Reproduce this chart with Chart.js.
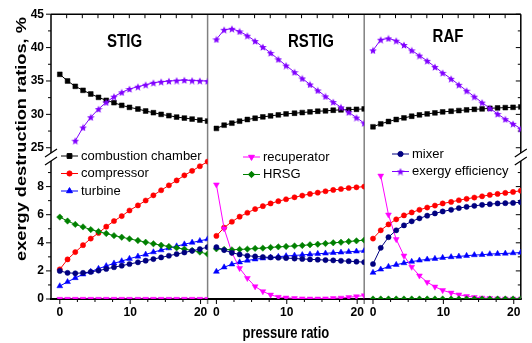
<!DOCTYPE html>
<html>
<head>
<meta charset="utf-8">
<script src="https://cdn.jsdelivr.net/npm/chart.js@4.4.1/dist/chart.umd.min.js"></script>
<style>
  body { margin: 0; background: #fff; }
  canvas { display: block; }
</style>
</head>
<body>
<canvas id="exergyChart" width="532" height="343"></canvas>
<script>
// pressure ratio, shared by the three cycles
var pressureRatio = [0, 1.1, 2.2, 3.3, 4.4, 5.5, 6.6, 7.7, 8.8, 9.9, 11.1, 12.2, 13.3, 14.4, 15.5, 16.6, 17.7, 18.8, 19.9, 21.0];

// STIG
var stigCombustion = [36.0, 35.0, 34.2, 33.6, 33.05, 32.55, 32.1, 31.75, 31.35, 31.05, 30.8, 30.5, 30.25, 30.0, 29.8, 29.6, 29.45, 29.3, 29.15, 29.0];
var stigCompressor = [2.11, 2.82, 3.34, 3.83, 4.30, 4.70, 5.15, 5.55, 5.90, 6.30, 6.66, 7.01, 7.38, 7.74, 8.09, 8.44, 8.80, 9.12, 9.45, 9.78];
var stigTurbine = [0.92, 1.22, 1.50, 1.76, 1.95, 2.16, 2.35, 2.54, 2.70, 2.87, 3.03, 3.17, 3.34, 3.48, 3.62, 3.76, 3.90, 4.02, 4.14, 4.26];
var stigRecuperator = [0, 0, 0, 0, 0, 0, 0, 0, 0, 0, 0, 0, 0, 0, 0, 0, 0, 0, 0, 0];
var stigHrsg = [5.83, 5.55, 5.31, 5.13, 4.94, 4.80, 4.66, 4.51, 4.40, 4.28, 4.16, 4.04, 3.93, 3.83, 3.74, 3.64, 3.55, 3.46, 3.34, 3.20];
var stigMixer = [2.00, 1.86, 1.83, 1.86, 1.93, 2.02, 2.14, 2.26, 2.37, 2.49, 2.61, 2.73, 2.84, 2.96, 3.08, 3.20, 3.31, 3.43, 3.55, 3.69];
var stigEfficiency = [null, null, 26.05, 28.04, 29.57, 30.8, 31.8, 32.65, 33.3, 33.8, 34.14, 34.43, 34.73, 34.88, 34.98, 35.07, 35.13, 35.07, 35.03, 34.98];

// RSTIG
var rstigCombustion = [27.89, 28.38, 28.68, 28.98, 29.23, 29.42, 29.62, 29.77, 29.92, 30.07, 30.17, 30.27, 30.37, 30.47, 30.52, 30.62, 30.67, 30.71, 30.76, 30.81];
var rstigCompressor = [4.49, 5.08, 5.50, 5.86, 6.14, 6.40, 6.61, 6.80, 6.96, 7.10, 7.24, 7.36, 7.48, 7.57, 7.67, 7.76, 7.83, 7.90, 7.95, 8.00];
var rstigTurbine = [1.95, 2.26, 2.47, 2.62, 2.74, 2.83, 2.90, 2.96, 3.01, 3.06, 3.10, 3.14, 3.18, 3.22, 3.25, 3.29, 3.32, 3.36, 3.39, 3.43];
var rstigRecuperator = [8.14, 5.01, 3.3, 2.19, 1.48, 0.89, 0.54, 0.30, 0.14, 0.09, 0.05, 0.03, 0.02, 0.02, 0.03, 0.05, 0.08, 0.12, 0.18, 0.25];
var rstigHrsg = [3.57, 3.53, 3.50, 3.53, 3.55, 3.60, 3.62, 3.67, 3.71, 3.74, 3.78, 3.81, 3.86, 3.90, 3.95, 4.00, 4.04, 4.09, 4.14, 4.19];
var rstigMixer = [3.69, 3.48, 3.29, 3.17, 3.08, 3.03, 2.99, 2.96, 2.94, 2.91, 2.88, 2.85, 2.82, 2.80, 2.77, 2.75, 2.72, 2.69, 2.66, 2.62];
var rstigEfficiency = [41.23, 42.67, 42.82, 42.42, 41.78, 40.98, 40.09, 39.20, 38.25, 37.31, 36.32, 35.38, 34.48, 33.59, 32.70, 31.85, 31.06, 30.32, 29.52, 28.68];

// RAF
var rafCombustion = [28.14, 28.58, 28.93, 29.23, 29.47, 29.72, 29.92, 30.07, 30.22, 30.37, 30.47, 30.57, 30.67, 30.76, 30.81, 30.91, 30.96, 31.01, 31.06, 31.11];
var rafCompressor = [4.30, 4.89, 5.31, 5.67, 5.95, 6.16, 6.35, 6.51, 6.65, 6.80, 6.91, 7.03, 7.13, 7.22, 7.31, 7.41, 7.48, 7.55, 7.62, 7.71];
var rafTurbine = [1.88, 2.11, 2.30, 2.44, 2.56, 2.66, 2.75, 2.82, 2.87, 2.94, 2.99, 3.03, 3.08, 3.13, 3.15, 3.20, 3.22, 3.24, 3.27, 3.31];
var rafRecuperator = [null, 8.77, 6.0, 4.25, 3.08, 2.28, 1.66, 1.2, 0.87, 0.62, 0.44, 0.31, 0.2, 0.13, 0.08, 0.05, 0.03, 0.02, 0.01, 0.01];
var rafHrsg = [0, 0, 0, 0, 0, 0, 0, 0, 0, 0, 0, 0, 0, 0, 0, 0, 0, 0, 0, 0];
var rafMixer = [2.49, 3.64, 4.40, 4.89, 5.24, 5.53, 5.74, 5.93, 6.09, 6.23, 6.35, 6.47, 6.56, 6.63, 6.70, 6.75, 6.80, 6.82, 6.84, 6.89];
var rafEfficiency = [39.59, 41.18, 41.38, 41.03, 40.39, 39.59, 38.80, 38.01, 37.11, 36.22, 35.33, 34.43, 33.54, 32.65, 31.76, 30.91, 30.07, 29.28, 28.58, 27.84];

var panelTitles = ["STIG", "RSTIG", "RAF"];
var xTicks = [0, 10, 20];
var yUpperTicks = [25, 30, 35, 40, 45];
var yLowerTicks = [0, 2, 4, 6, 8];

Chart.defaults.font.family = "'Liberation Sans', Arial, sans-serif";
Chart.defaults.color = "#000";

// filled five point star used as the efficiency marker
function makeStar(color) {
  var c = document.createElement("canvas");
  c.width = 8;
  c.height = 8;
  var g = c.getContext("2d");
  g.fillStyle = color;
  g.beginPath();
  for (var i = 0; i < 10; i++) {
    var r = i % 2 === 0 ? 4 : 1.8;
    var a = -Math.PI / 2 + (i * Math.PI) / 5;
    g.lineTo(4 + r * Math.cos(a), 4.4 + r * Math.sin(a));
  }
  g.closePath();
  g.fill();
  return c;
}

var series = [
  { label: "combustion chamber", color: "#000000", style: "rect", radius: 3.4, y: "yTop" },
  { label: "compressor", color: "#ff0000", style: "circle", radius: 2.6, y: "yBot" },
  { label: "turbine", color: "#0000ff", style: "triangle", radius: 3.4, y: "yBot" },
  { label: "recuperator", color: "#ff00ff", style: "triangle", rotation: 180, radius: 3.4, y: "yBot" },
  { label: "HRSG", color: "#008000", style: "rectRot", radius: 3.2, y: "yBot" },
  { label: "mixer", color: "#000080", style: "circle", radius: 2.6, y: "yBot" },
  { label: "exergy efficiency", color: "#8000ff", style: makeStar("#8000ff"), radius: 4, y: "yTop" }
];

var panels = [
  { x: "xA", legend: [0, 1, 2], legendX: 61, legendY: 156, titleX: 0.47, titleY: 42,
    values: [stigCombustion, stigCompressor, stigTurbine, stigRecuperator, stigHrsg, stigMixer, stigEfficiency] },
  { x: "xB", legend: [3, 4], legendX: 243, legendY: 157, titleX: 0.66, titleY: 42,
    values: [rstigCombustion, rstigCompressor, rstigTurbine, rstigRecuperator, rstigHrsg, rstigMixer, rstigEfficiency] },
  { x: "xC", legend: [5, 6], legendX: 392, legendY: 154, titleX: 0.535, titleY: 37,
    values: [rafCombustion, rafCompressor, rafTurbine, rafRecuperator, rafHrsg, rafMixer, rafEfficiency] }
];

var datasets = [];
panels.forEach(function(p) {
  series.forEach(function(s, i) {
    var vals = p.values[i];
    datasets.push({
      label: s.label,
      data: pressureRatio.map(function(x, j) {
        return { x: x, y: vals[j] };
      }),
      xAxisID: p.x,
      yAxisID: s.y,
      borderColor: s.color,
      backgroundColor: s.color,
      borderWidth: 1,
      pointStyle: s.style,
      pointRotation: s.rotation || 0,
      pointRadius: s.radius,
      pointBorderWidth: 0.5,
      order: 10 - i
    });
  });
});

function xAxis(weight) {
  return {
    type: "linear",
    position: "bottom",
    stack: "pressure",
    stackWeight: 1,
    weight: weight,
    min: -1.25,
    max: 21,
    grid: { display: false, drawTicks: false },
    border: { display: false },
    ticks: {
      stepSize: 10,
      includeBounds: false,
      autoSkip: false,
      maxRotation: 0,
      padding: 6,
      font: { size: 12, weight: "bold" },
      callback: function(v) {
        return xTicks.indexOf(v) >= 0 ? v : "";
      }
    },
    afterFit: function(scale) {
      scale.height = 44;
    }
  };
}

// the two y sections share the height by pixel size, not by value range
function yAxis(weight, share, min, max, step, labels) {
  return {
    type: "linear",
    position: "left",
    stack: "ratio",
    stackWeight: share,
    weight: weight,
    min: min,
    max: max,
    grid: { display: false, drawTicks: false },
    border: { display: false },
    ticks: {
      stepSize: step,
      includeBounds: false,
      autoSkip: false,
      padding: 7,
      font: { size: 12, weight: "bold" },
      callback: function(v) {
        return labels.indexOf(v) >= 0 ? v : "";
      }
    },
    afterFit: function(scale) {
      scale.width = 51;
    }
  };
}

// text drawn a little taller than its font
function tallText(ctx, text, x, y, stretch) {
  ctx.save();
  ctx.translate(x, y);
  ctx.scale(1, stretch);
  ctx.fillText(text, 0, 0);
  ctx.restore();
}

// frame, ticks, panel dividers and the axis break
var framePlugin = {
  id: "frame",
  beforeDatasetsDraw: function(chart) {
    var ctx = chart.ctx;
    var a = chart.chartArea;
    var s = chart.scales;
    var brk = s.yTop.bottom;
    var gap = 4;
    var i, v, y, len;

    ctx.save();
    ctx.lineCap = "butt";

    // panel dividers
    ctx.strokeStyle = "#808080";
    ctx.lineWidth = 1.5;
    [s.xB.left, s.xC.left].forEach(function(x) {
      ctx.beginPath();
      ctx.moveTo(x, a.top);
      ctx.lineTo(x, a.bottom + 5);
      ctx.stroke();
    });

    ctx.strokeStyle = "#000";
    ctx.lineWidth = 1.5;

    // left and right axis lines, split at the break
    [a.left, a.right].forEach(function(x) {
      ctx.beginPath();
      ctx.moveTo(x, a.top);
      ctx.lineTo(x, brk - gap);
      ctx.moveTo(x, brk + gap);
      ctx.lineTo(x, a.bottom);
      ctx.stroke();
    });

    // top line
    ctx.beginPath();
    ctx.moveTo(a.left, a.top);
    ctx.lineTo(a.right, a.top);
    ctx.stroke();

    // y ticks: outward on the left, inward on the right
    ctx.lineWidth = 1;
    ctx.beginPath();
    for (v = 25; v <= 45; v += 2.5) {
      y = s.yTop.getPixelForValue(v);
      len = v % 5 === 0 ? 5 : 3;
      ctx.moveTo(a.left - len, y);
      ctx.lineTo(a.left, y);
      ctx.moveTo(a.right - len, y);
      ctx.lineTo(a.right, y);
    }
    for (v = 0; v <= 9; v += 1) {
      y = s.yBot.getPixelForValue(v);
      len = v % 2 === 0 ? 5 : 3;
      ctx.moveTo(a.left - len, y);
      ctx.lineTo(a.left, y);
      ctx.moveTo(a.right - len, y);
      ctx.lineTo(a.right, y);
    }
    ctx.stroke();

    // top and bottom x ticks for each panel
    ctx.beginPath();
    [s.xA, s.xB, s.xC].forEach(function(xs) {
      var w = (xs.right - xs.left) / 10;
      for (i = 1; i < 10; i++) {
        ctx.moveTo(xs.left + i * w, a.top);
        ctx.lineTo(xs.left + i * w, a.top + 4);
      }
      for (v = 0; v <= 20; v += 2.5) {
        var x = xs.getPixelForValue(v);
        len = v % 10 === 0 ? 5 : 3;
        ctx.moveTo(x, a.bottom);
        ctx.lineTo(x, a.bottom + len);
      }
    });
    ctx.stroke();

    // bottom line
    ctx.lineWidth = 2;
    ctx.beginPath();
    ctx.moveTo(a.left - 1, a.bottom);
    ctx.lineTo(a.right + 1, a.bottom);
    ctx.stroke();

    // break marks
    ctx.lineWidth = 1.2;
    ctx.beginPath();
    [a.left, a.right].forEach(function(x) {
      ctx.moveTo(x - 6, brk - gap + 4);
      ctx.lineTo(x + 6, brk - gap - 4);
      ctx.moveTo(x - 6, brk + gap + 4);
      ctx.lineTo(x + 6, brk + gap - 4);
    });
    ctx.stroke();
    ctx.restore();
  },
  afterDatasetsDraw: function(chart) {
    var ctx = chart.ctx;
    var a = chart.chartArea;
    ctx.save();
    ctx.fillStyle = "#000";

    // panel titles
    ctx.font = "bold 15px 'Liberation Sans', Arial, sans-serif";
    ctx.textAlign = "center";
    ctx.textBaseline = "middle";
    panels.forEach(function(p, k) {
      var xs = chart.scales[p.x];
      tallText(ctx, panelTitles[k], xs.left + (xs.right - xs.left) * p.titleX, p.titleY, 1.2);
    });

    // legends
    ctx.font = "13px 'Liberation Sans', Arial, sans-serif";
    ctx.textAlign = "left";
    panels.forEach(function(p) {
      p.legend.forEach(function(idx, r) {
        var s = series[idx];
        var y = p.legendY + r * 17.5;
        ctx.strokeStyle = s.color;
        ctx.fillStyle = s.color;
        ctx.lineWidth = 1;
        ctx.beginPath();
        ctx.moveTo(p.legendX, y);
        ctx.lineTo(p.legendX + 17, y);
        ctx.stroke();
        Chart.helpers.drawPoint(ctx, {
          pointStyle: s.style,
          rotation: s.rotation || 0,
          radius: s.radius,
          borderWidth: 0.5
        }, p.legendX + 8.5, y);
        ctx.fillStyle = "#000";
        ctx.fillText(s.label, p.legendX + 20, y);
      });
    });

    // axis titles
    ctx.font = "bold 13px 'Liberation Sans', Arial, sans-serif";
    ctx.textAlign = "center";
    tallText(ctx, "pressure ratio", (a.left + a.right) / 2, 334, 1.25);
    ctx.font = "bold 14px 'Liberation Sans', Arial, sans-serif";
    ctx.translate(22, 139);
    ctx.rotate(-Math.PI / 2);
    ctx.scale(1.3, 1);
    ctx.fillText("exergy destruction ratios, %", 0, 0);
    ctx.restore();
  }
};

var chart = new Chart(document.getElementById("exergyChart").getContext("2d"), {
  type: "line",
  data: { datasets: datasets },
  options: {
    responsive: false,
    animation: false,
    layout: { padding: { top: 12, right: 4, left: 0, bottom: 0 } },
    plugins: { legend: { display: false }, tooltip: { enabled: false } },
    scales: {
      xA: xAxis(0),
      xB: xAxis(1),
      xC: xAxis(2),
      yTop: yAxis(2, 144, 23.6, 45, 5, yUpperTicks),
      yBot: yAxis(1, 143, 0, 10.1, 2, yLowerTicks)
    }
  },
  plugins: [framePlugin]
});
</script>
</body>
</html>
